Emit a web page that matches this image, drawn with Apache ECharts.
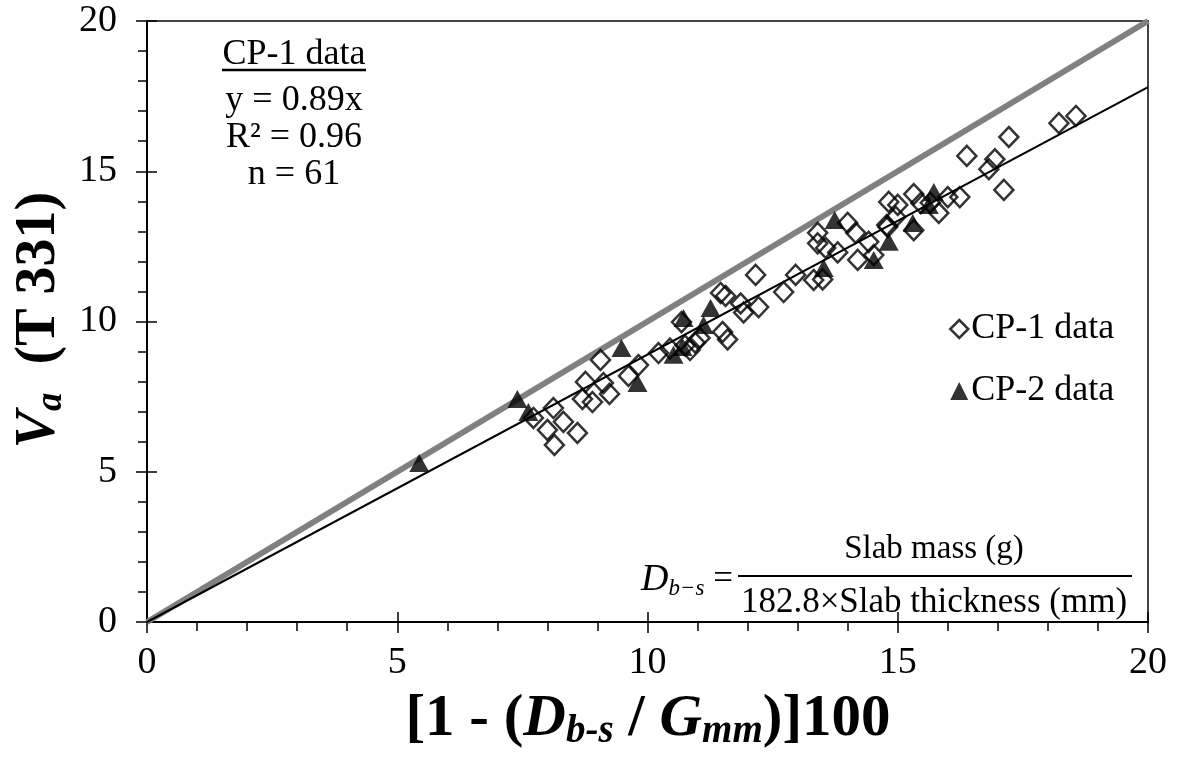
<!DOCTYPE html>
<html>
<head>
<meta charset="utf-8">
<script src="https://cdn.jsdelivr.net/npm/echarts@6/dist/echarts.min.js"></script>
<style>
  html, body { margin: 0; padding: 0; background: #fff; }
  #chart { width: 1177px; height: 767px; }
</style>
</head>
<body>
<div id="chart"></div>
<script>
// CP-1 data (open diamonds)
const cp1X = [7.72, 8.12, 8.32, 8.00, 8.60, 8.14, 8.70, 8.90, 8.76, 9.06,
  9.12, 9.24, 9.62, 9.82, 10.22, 10.45, 10.68, 10.85, 10.95, 11.05,
  11.46, 11.56, 11.86, 11.92, 12.22, 12.16, 11.50, 11.60, 12.72, 12.96,
  13.40, 13.40, 13.56, 13.80, 13.32, 14.00, 14.16, 14.20, 14.42, 14.80,
  14.82, 15.00, 14.96, 15.32, 15.46, 15.82, 15.32, 14.52, 16.00, 16.24,
  17.12, 16.82, 16.94, 16.38, 17.22, 18.22, 18.56, 15.65, 13.50, 14.78, 10.75];
const cp1Y = [6.79, 7.12, 6.66, 6.39, 6.29, 5.89, 7.42, 7.32, 7.99, 8.72,
  7.95, 7.59, 8.19, 8.55, 8.95, 9.10, 9.98, 9.05, 9.30, 9.45,
  10.95, 10.85, 10.60, 10.30, 10.48, 11.55, 9.65, 9.40, 10.98, 11.55,
  12.95, 12.60, 12.45, 12.30, 11.38, 13.28, 12.95, 12.05, 12.65, 13.15,
  13.98, 13.88, 13.48, 14.24, 13.94, 13.61, 13.04, 12.21, 14.14, 14.14,
  14.38, 15.07, 15.40, 15.51, 16.14, 16.60, 16.84, 13.95, 11.40, 13.21, 9.20];

// CP-2 data (filled triangles)
const cp2X = [5.44, 7.40, 7.62, 9.48, 9.80, 10.52, 10.70, 10.72, 11.12, 11.26,
  13.52, 13.74, 14.52, 14.82, 15.30, 15.62, 15.72];
const cp2Y = [5.29, 7.42, 6.99, 9.12, 7.95, 8.89, 9.15, 10.12, 9.88, 10.45,
  11.78, 13.38, 12.05, 12.65, 13.28, 13.88, 14.31];

// line of equality and CP-1 fit (y = 0.89x)
const lineX = [0, 20];
const equalityY = [0, 20];
const fitY = [0, 17.8];

const statsLines = ["y = 0.89x", "R\u00B2 = 0.96", "n = 61"];

const serif = "'Liberation Serif', 'Times New Roman', serif";
const zip = (xs, ys) => xs.map((x, i) => [x, ys[i]]);

const chart = echarts.init(document.getElementById("chart"));

const baseX = { type: "value", min: 0, max: 20, interval: 5, position: "bottom",
  splitLine: { show: false } };
const baseY = { type: "value", min: 0, max: 20, interval: 5, position: "left",
  splitLine: { show: false } };

const titleRich = (size, subSize, pad) => ({
  b: { font: `bold ${size}px ${serif}`, fill: "#000", lineHeight: 60 },
  bi: { font: `italic bold ${size}px ${serif}`, fill: "#000", lineHeight: 60 },
  sub: { font: `italic bold ${subSize}px ${serif}`, fill: "#000", lineHeight: 60, padding: [pad, 0, 0, 0] },
});

chart.setOption({
  animation: false,
  grid: { left: 147, right: 29, top: 21, bottom: 145, show: true,
    borderColor: "#444", borderWidth: 2 },
  xAxis: [
    { ...baseX,
      axisLine: { lineStyle: { color: "#000", width: 2 } },
      axisTick: { inside: false, length: 11, lineStyle: { color: "#000", width: 1.5 } },
      minorTick: { show: true, splitNumber: 5, length: 9, lineStyle: { color: "#000", width: 1.5 } },
      axisLabel: { fontFamily: serif, fontSize: 38, color: "#000", margin: 22 } },
    { ...baseX,
      axisLine: { show: false },
      axisTick: { inside: true, length: 10, lineStyle: { color: "#000", width: 1.5 } },
      axisLabel: { show: false } },
  ],
  yAxis: [
    { ...baseY,
      axisLine: { lineStyle: { color: "#000", width: 2 } },
      axisTick: { inside: false, length: 11, lineStyle: { color: "#000", width: 1.5 } },
      minorTick: { show: true, splitNumber: 5, length: 9, lineStyle: { color: "#000", width: 1.5 } },
      axisLabel: { fontFamily: serif, fontSize: 38, color: "#000", margin: 30 } },
    { ...baseY,
      axisLine: { show: false },
      axisTick: { inside: true, length: 10, lineStyle: { color: "#000", width: 1.5 } },
      axisLabel: { show: false } },
  ],
  legend: {
    orient: "vertical", left: 944, top: 306, itemGap: 26,
    itemWidth: 18, itemHeight: 18, itemStyle: { borderWidth: 2.5 },
    textStyle: { fontFamily: serif, fontSize: 36, color: "#000", padding: [0, 0, 0, -2] },
    data: ["CP-1 data", "CP-2 data"],
  },
  series: [
    { name: "equality", type: "line", data: zip(lineX, equalityY), symbol: "none",
      lineStyle: { color: "#808080", width: 6 }, z: 1, silent: true },
    { name: "fit", type: "line", data: zip(lineX, fitY), symbol: "none",
      lineStyle: { color: "#000", width: 2 }, z: 2, silent: true },
    { name: "CP-1 data", type: "scatter", data: zip(cp1X, cp1Y), symbol: "diamond",
      symbolSize: [19, 20],
      itemStyle: { color: "rgba(255,255,255,0)", borderColor: "#000", borderWidth: 2.5 }, z: 3 },
    { name: "CP-2 data", type: "scatter", data: zip(cp2X, cp2Y), symbol: "triangle",
      symbolSize: [20, 18], itemStyle: { color: "#000" }, z: 4 },
  ],
  graphic: [
    // stats box
    { type: "text", x: 294, y: 55, style: { text: "CP-1 data", font: `36px ${serif}`,
      fill: "#000", align: "center", verticalAlign: "middle" } },
    { type: "line", shape: { x1: 222, y1: 70, x2: 366, y2: 70 },
      style: { stroke: "#000", lineWidth: 2.5 } },
    ...statsLines.map((t, i) => ({ type: "text", x: 294, y: 101 + i * 37,
      style: { text: t, font: `36px ${serif}`, fill: "#000", align: "center", verticalAlign: "middle" } })),
    // x axis title
    { type: "text", x: 648, y: 720, style: {
      text: "{b|[1 - (}{bi|D}{sub|b-s}{b| / }{bi|G}{sub|mm}{b|)]100}",
      align: "center", verticalAlign: "middle", rich: titleRich(59, 39, 24) } },
    // y axis title
    { type: "text", x: 40, y: 320, rotation: Math.PI / 2, style: {
      text: "{bi|V}{sub|a}{b|  (T 331)}",
      align: "center", verticalAlign: "middle", rich: titleRich(56, 37, 22) } },
    // density formula
    { type: "text", x: 733, y: 580, style: {
      text: "{i|D}{sub|b\u2212s}{n| =}",
      align: "right", verticalAlign: "middle",
      rich: {
        i: { font: `italic 38px ${serif}`, fill: "#000", lineHeight: 40 },
        n: { font: `35px ${serif}`, fill: "#000", lineHeight: 40 },
        sub: { font: `italic 23px ${serif}`, fill: "#000", lineHeight: 40, padding: [18, 0, 0, 0] },
      } } },
    { type: "text", x: 934, y: 549, style: { text: "Slab mass (g)", font: `33px ${serif}`,
      fill: "#000", align: "center", verticalAlign: "middle" } },
    { type: "line", shape: { x1: 738, y1: 576, x2: 1132, y2: 576 },
      style: { stroke: "#000", lineWidth: 2 } },
    { type: "text", x: 934, y: 603, style: { text: "182.8\u00D7Slab thickness (mm)", font: `35px ${serif}`,
      fill: "#000", align: "center", verticalAlign: "middle" } },
  ],
});
</script>
</body>
</html>
